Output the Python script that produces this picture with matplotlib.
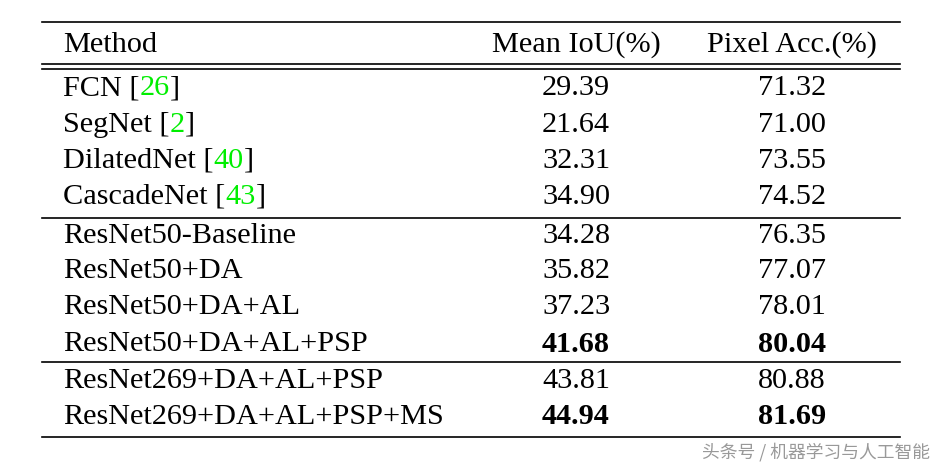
import matplotlib.pyplot as plt

methods = ["FCN", "SegNet", "DilatedNet", "CascadeNet",
           "ResNet50-Baseline", "ResNet50+DA", "ResNet50+DA+AL", "ResNet50+DA+AL+PSP",
           "ResNet269+DA+AL+PSP", "ResNet269+DA+AL+PSP+MS"]
refs = ["26", "2", "40", "43", None, None, None, None, None, None]
mean_iou = ["29.39", "21.64", "32.31", "34.90", "34.28", "35.82", "37.23", "41.68", "43.81", "44.94"]
pixel_acc = ["71.32", "71.00", "73.55", "74.52", "76.35", "77.07", "78.01", "80.04", "80.88", "81.69"]
bold_rows = [7, 9]
headers = ["Method", "Mean IoU(%)", "Pixel Acc.(%)"]

plt.rcParams['font.family'] = ['Liberation Serif', 'DejaVu Serif']
fig = plt.figure(figsize=(9.4, 4.66), dpi=100)
ax = fig.add_axes([0, 0, 1, 1])
ax.set_xlim(0, 940)
ax.set_ylim(466, 0)
ax.axis('off')

fs = 21.8
row_y = [88, 125, 161, 197, 236, 271, 307, 344, 381, 417]
x_method, x_iou, x_acc = 63, 576, 792

ax.text(x_method, 45, headers[0], fontsize=fs, va='center', ha='left')
ax.text(x_iou, 45, headers[1], fontsize=fs, va='center', ha='center')
ax.text(x_acc, 45, headers[2], fontsize=fs, va='center', ha='center')

fig.canvas.draw()
renderer = fig.canvas.get_renderer()
green = '#00ee00'

for i, name in enumerate(methods):
    y = row_y[i]
    t = ax.text(x_method, y, name + (" [" if refs[i] else ""), fontsize=fs, va='center', ha='left')
    if refs[i]:
        bb = t.get_window_extent(renderer)
        t2 = ax.text(bb.x1, y, refs[i], fontsize=fs, va='center', ha='left', color=green)
        bb2 = t2.get_window_extent(renderer)
        ax.text(bb2.x1, y, "]", fontsize=fs, va='center', ha='left')
    w = 'bold' if i in bold_rows else 'normal'
    ax.text(x_iou, y, mean_iou[i], fontsize=fs, va='center', ha='center', fontweight=w)
    ax.text(x_acc, y, pixel_acc[i], fontsize=fs, va='center', ha='center', fontweight=w)

for y in [22, 64, 69, 218, 362, 437]:
    ax.plot([42, 900], [y, y], color='black', lw=1.2)

ax.text(930, 452, "头条号 / 机器学习与人工智能", fontsize=12.8, color='#999999', ha='right', va='center',
        family=['Noto Sans CJK SC', 'DejaVu Sans'])

fig.savefig("out.png", dpi=100)
